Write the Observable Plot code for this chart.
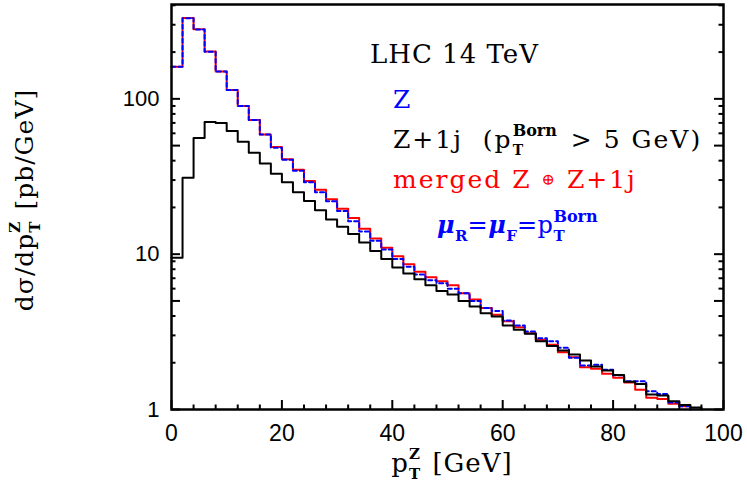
<!DOCTYPE html>
<html><head><meta charset="utf-8">
<script src="https://cdn.jsdelivr.net/npm/d3@7"></script>
<script src="https://cdn.jsdelivr.net/npm/@observablehq/plot@0.6"></script>
<style>body{margin:0;background:#fff}</style>
</head><body><div id="chart"></div>
<script>
// bin width 2 GeV, lower edges start at 0
const binWidth = 2;
// Z (blue, dashed)
const zOnly = [161, 330, 280, 201, 150, 114, 90, 73, 59, 48.5, 40.5, 34.5, 29.0, 25.0, 21.9, 19.0, 16.3, 14.0, 12.2, 10.7, 9.3, 8.3, 7.4, 6.8, 6.5, 6.0, 5.6, 5.0, 4.5, 4.3, 3.74, 3.47, 3.18, 2.88, 2.75, 2.50, 2.15, 1.92, 1.94, 1.80, 1.66, 1.52, 1.52, 1.31, 1.26, 1.11, 1.05];
// merged Z ⊕ Z+1j (red)
const merged = [161, 332, 281, 202, 150, 114, 90, 73, 59, 49, 40.8, 35, 29.6, 26, 22.6, 19.6, 17.1, 14.6, 12.6, 11.0, 9.7, 8.6, 7.7, 7.1, 6.7, 6.3, 5.6, 5.1, 4.5, 4.07, 3.7, 3.39, 3.1, 2.81, 2.61, 2.34, 2.17, 1.87, 1.83, 1.70, 1.60, 1.49, 1.34, 1.19, 1.17, 1.09, 1.05];
// Z+1j (black)
const zPlusJet = [9.5, 31, 56, 71, 70, 62, 53, 45, 38.4, 33, 29, 25, 22, 19.2, 16.7, 15.0, 13.5, 11.9, 10.5, 9.3, 8.2, 7.5, 6.9, 6.3, 5.8, 5.5, 5.0, 4.6, 4.17, 3.97, 3.47, 3.26, 3.07, 2.75, 2.56, 2.40, 2.26, 2.07, 1.89, 1.78, 1.67, 1.51, 1.46, 1.25, 1.23, 1.13, 1.07, 1.03];

const xLabelTicks = [0, 20, 40, 60, 80, 100];
const xMinorTicks = d3.range(0, 101, 4).filter(d => d % 20 !== 0);
const yLabelTicks = [1, 5, 10, 50, 100];
const yMinorTicks = [2, 3, 4, 6, 7, 8, 9, 20, 30, 40, 60, 70, 80, 90, 200, 300, 400];

const yMin = 1, yMax = 405;
function steps(vals) {
  const pts = vals.map((v, i) => ({x: i * binWidth, y: v}));
  pts.push({x: vals.length * binWidth, y: yMin});
  return pts;
}

const W = 747, H = 488, ML = 171, MR = 24, MT = 4, MB = 79;
const PW = W - ML - MR, PH = H - MT - MB;

const chart = Plot.plot({
  width: W, height: H, marginLeft: ML, marginRight: MR, marginTop: MT, marginBottom: MB,
  style: {background: "white", fontFamily: "Liberation Sans"},
  x: {domain: [0, 100]},
  y: {type: "log", domain: [yMin, yMax]},
  marks: [
    Plot.line(steps(merged), {x: "x", y: "y", curve: "step-after", stroke: "#ff0000", strokeWidth: 2}),
    Plot.line(steps(zOnly), {x: "x", y: "y", curve: "step-after", stroke: "#0000ff", strokeWidth: 2, strokeDasharray: "4,3"}),
    Plot.line(steps(zPlusJet), {x: "x", y: "y", curve: "step-after", stroke: "black", strokeWidth: 2}),
    Plot.tickX(xLabelTicks, {x: d => d, insetTop: PH - 9, stroke: "black", strokeWidth: 2}),
    Plot.tickX(xMinorTicks, {x: d => d, insetTop: PH - 4.5, stroke: "black", strokeWidth: 2}),
    Plot.tickY(yLabelTicks, {y: d => d, insetRight: PW - 9, stroke: "black", strokeWidth: 2}),
    Plot.tickY(yMinorTicks, {y: d => d, insetRight: PW - 4.5, stroke: "black", strokeWidth: 2}),
    Plot.tickY(yLabelTicks, {y: d => d, insetLeft: PW - 9, stroke: "black", strokeWidth: 2}),
    Plot.tickY(yMinorTicks, {y: d => d, insetLeft: PW - 4.5, stroke: "black", strokeWidth: 2}),
    Plot.axisX({ticks: xLabelTicks, tickSize: 0, tickPadding: 15, fontSize: 23, tickFormat: d => String(d), label: null, fill: "black"}),
    Plot.axisY({ticks: yLabelTicks, tickSize: 0, tickPadding: 12, fontSize: 22, tickFormat: d => String(d), label: null, fill: "black"}),
    Plot.frame({stroke: "black", strokeWidth: 2.5})
  ]
});
document.getElementById("chart").appendChild(chart);

const svg = d3.select(chart);
const SERIF = "DejaVu Serif";

function rich(g, parts, base) {
  let x = 0;
  const mk = (q, xx) => {
    const o = Object.assign({}, base, q);
    const t = g.append("text").attr("x", xx).attr("y", o.dy || 0)
      .attr("text-anchor", "start")
      .attr("xml:space", "preserve")
      .attr("font-family", o.family || SERIF)
      .attr("font-size", o.size)
      .attr("font-weight", o.weight || "normal")
      .attr("font-style", o.style || "normal")
      .attr("letter-spacing", o.ls || 0)
      .attr("fill", o.fill || "black")
      .style("white-space", "pre")
      .text(o.t);
    return t.node().getComputedTextLength();
  };
  for (const p of parts) {
    if (p.sup || p.sub) {
      let w = 0;
      if (p.sup) w = Math.max(w, mk(p.sup, x));
      if (p.sub) w = Math.max(w, mk(p.sub, x));
      x += w + (p.gap || 0);
    } else {
      x += mk(p, x);
    }
  }
  return x;
}

function label(x, y, parts, base, anchor = "start", rotate = 0) {
  const outer = svg.append("g").attr("transform", `translate(${x},${y}) rotate(${rotate})`);
  const inner = outer.append("g");
  const w = rich(inner, parts, base);
  if (anchor === "middle") inner.attr("transform", `translate(${-w / 2},0)`);
  return w;
}

// legend / annotations
label(370, 63, [{t: "LHC 14 TeV"}], {size: 26, ls: 1});
label(393, 108, [{t: "Z"}], {size: 25, ls: 2, fill: "#0000ff"});
label(393, 148, [
  {t: "Z+1j  (p"},
  {sup: {t: "Born", size: 16, weight: "bold", dy: -12, ls: 0}, sub: {t: "T", size: 14, weight: "bold", dy: 7, ls: 0}, gap: 4},
  {t: " > 5 GeV)"}
], {size: 25, ls: 2});
label(393, 188, [{t: "merged Z "}, {t: "⊕", size: 16, dy: -3}, {t: " Z+1j"}], {size: 25, ls: 2, fill: "#ff0000"});
label(437, 233, [
  {t: "μ", style: "italic", weight: "bold"},
  {sub: {t: "R", size: 15, weight: "bold", dy: 8, ls: 0}},
  {t: "="},
  {t: "μ", style: "italic", weight: "bold"},
  {sub: {t: "F", size: 15, weight: "bold", dy: 8, ls: 0}},
  {t: "=p"},
  {sup: {t: "Born", size: 16, weight: "bold", dy: -11, ls: 0}, sub: {t: "T", size: 15, weight: "bold", dy: 8, ls: 0}}
], {size: 24, ls: 0.5, fill: "#0000ff"});

// axis titles
label(452, 472, [
  {t: "p"},
  {sup: {t: "Z", size: 15, weight: "bold", dy: -13}, sub: {t: "T", size: 15, weight: "bold", dy: 7}, gap: 2},
  {t: " [GeV]"}
], {size: 26, ls: 1}, "middle");
label(33, 200, [
  {t: "dσ/dp"},
  {sup: {t: "Z", size: 15, weight: "bold", dy: -13}, sub: {t: "T", size: 15, weight: "bold", dy: 7}, gap: 2},
  {t: " [pb/GeV]"}
], {size: 25, ls: 1}, "middle", -90);
</script>
</body></html>
